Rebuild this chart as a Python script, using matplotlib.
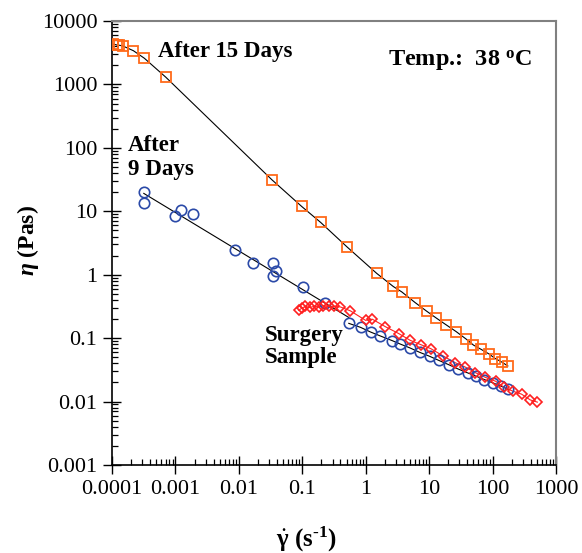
import numpy as np
import matplotlib
matplotlib.use("Agg")
import matplotlib.pyplot as plt
from matplotlib.ticker import LogLocator, FuncFormatter, NullFormatter

plt.rcParams['font.family'] = ['Liberation Serif', 'DejaVu Serif']
plt.rcParams['mathtext.fontset'] = 'custom'
plt.rcParams['mathtext.rm'] = 'Liberation Serif'
plt.rcParams['mathtext.it'] = 'Liberation Serif:italic'
plt.rcParams['mathtext.bf'] = 'Liberation Serif:bold'
plt.rcParams['mathtext.bfit'] = 'Liberation Serif:bold:italic'

# After 15 days (squares)
rate_15 = [1.03e-4, 1.19e-4, 1.30e-4, 1.48e-4, 2.17e-4, 3.24e-4, 7.05e-4,
           0.0333, 0.098, 0.195, 0.51, 1.49, 2.72, 3.70, 6.05, 9.14, 12.9,
           18.4, 26.6, 38.1, 49.9, 66.3, 87.1, 111, 139, 174]
visc_15 = [4345, 4190, 4150, 4040, 3405, 2585, 1300,
           31.3, 11.9, 6.67, 2.73, 1.05, 0.652, 0.536, 0.362, 0.266, 0.208,
           0.163, 0.127, 0.0971, 0.0778, 0.0664, 0.0566, 0.0475, 0.0421, 0.0364]

# After 9 days (circles)
rate_9 = [3.17e-4, 3.17e-4, 1.0e-3, 1.24e-3, 1.88e-3, 8.55e-3, 0.0167,
          0.0341, 0.0386, 0.0341, 0.104, 0.229, 0.541, 0.828, 1.19, 1.67,
          2.62, 3.46, 4.97, 7.08, 10.2, 14.1, 20.3, 28.5, 40.6, 55.7, 74.5,
          101, 138, 178]
visc_9 = [20.3, 13.3, 8.28, 10.45, 9.04, 2.41, 1.55,
          1.51, 1.13, 0.955, 0.631, 0.362, 0.171, 0.148, 0.125, 0.109,
          0.0913, 0.0811, 0.0702, 0.0598, 0.0517, 0.0447, 0.0382, 0.0327,
          0.0283, 0.0250, 0.0222, 0.0197, 0.0174, 0.0155]

# Surgery sample (diamonds)
rate_s = [0.0877, 0.0993, 0.112, 0.131, 0.155, 0.182, 0.213, 0.261, 0.313,
          0.400, 0.575, 0.993, 1.27, 2.03, 3.32, 5.03, 7.36, 10.6, 16.3,
          25.6, 36.5, 53.5, 76.2, 112, 149, 208, 286, 394, 508]
visc_s = [0.274, 0.299, 0.317, 0.305, 0.317, 0.310, 0.325, 0.317, 0.317,
          0.310, 0.269, 0.191, 0.199, 0.152, 0.118, 0.0923, 0.0791, 0.0684,
          0.0530, 0.0411, 0.0353, 0.0286, 0.0242, 0.0209, 0.0170, 0.0146,
          0.0131, 0.0106, 0.0098]

x9 = np.array(rate_9); y9 = np.array(visc_9)

fig = plt.figure(figsize=(5.82, 5.53), dpi=100)
ax = fig.add_axes([112/582, 1-465/553, 444/582, 444/553])

# lines through the 15 day data
ax.plot(rate_15, visc_15, color='black', lw=0.8, zorder=2)

# power-law trend for the low-rate part of the 9 day data, then joined points
n_fit = 13
p9 = np.polyfit(np.log10(x9[:n_fit]), np.log10(y9[:n_fit]), 1)
xl9 = np.array([x9[0], x9[n_fit-1]])
ax.plot(xl9, 10**np.polyval(p9, np.log10(xl9)), color='black', lw=0.8, zorder=2)
ax.plot(x9[n_fit-1:], y9[n_fit-1:], color='black', lw=0.8, zorder=2)

ax.plot(rate_s, visc_s, color='#ff2020', lw=0.8, zorder=2)

ax.plot(rate_15, visc_15, ls='none', marker='s', ms=7, mfc='none',
        mec='#ff6a1a', mew=1.3, zorder=3)
ax.plot(rate_9, visc_9, ls='none', marker='o', ms=7.5, mfc='none',
        mec='#2b4aa8', mew=1.2, zorder=3)
ax.plot(rate_s, visc_s, ls='none', marker='D', ms=5, mfc='none',
        mec='#ff2020', mew=1.2, zorder=3)

ax.set_xscale('log')
ax.set_yscale('log')
ax.set_xlim(1e-4, 1000)
ax.set_ylim(1e-3, 1e4)

fmt = FuncFormatter(lambda v, p: '%g' % v)
for axis in (ax.xaxis, ax.yaxis):
    axis.set_major_locator(LogLocator(base=10, numticks=20))
    axis.set_minor_locator(LogLocator(base=10, subs=np.arange(2, 10), numticks=20))
    axis.set_major_formatter(fmt)
    axis.set_minor_formatter(NullFormatter())

ax.tick_params(which='major', direction='inout', length=13, width=1.0,
               labelsize=16, color='black', pad=4)
ax.tick_params(which='minor', direction='in', length=4.5, width=0.9)

for s in ('left', 'bottom'):
    ax.spines[s].set_color('black')
    ax.spines[s].set_linewidth(1.2)
for s in ('top', 'right'):
    ax.spines[s].set_color('#808080')
    ax.spines[s].set_linewidth(1.5)

ax.text(0.104, 0.932, 'After 15 Days', transform=ax.transAxes,
        fontsize=16.5, fontweight='bold', ha='left', va='center')
ax.text(0.622, 0.910, r'Temp.:  38 $^{\mathbf{o}}$C', transform=ax.transAxes,
        fontsize=17.5, fontweight='bold', ha='left', va='center')
ax.text(0.036, 0.692, 'After\n9 Days', transform=ax.transAxes,
        fontsize=16.5, fontweight='bold', ha='left', va='center', linespacing=1.2)
ax.text(0.345, 0.266, 'Surgery\nSample', transform=ax.transAxes,
        fontsize=16.5, fontweight='bold', ha='left', va='center', linespacing=1.05)

fig.text(28/582, 1-240/553, r'$\mathbfit{\eta}$ (Pas)', rotation=90, fontsize=17,
         fontweight='bold', ha='center', va='center')
fig.text(306/582, 1-539/553, '$\\dot{\\mathbf{\\gamma}}$ (s$^{\\mathbf{\u20101}}$)',
         fontsize=18, fontweight='bold', ha='center', va='center')

fig.savefig('out.png', dpi=100)
